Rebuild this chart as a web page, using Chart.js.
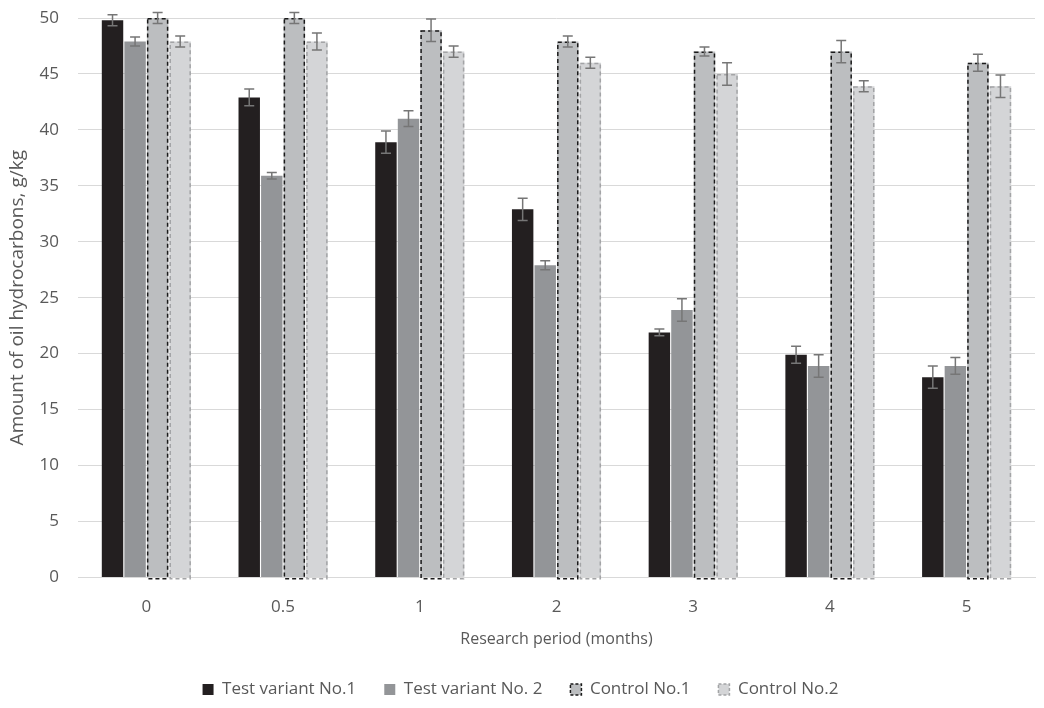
<!DOCTYPE html>
<html>
<head>
<meta charset="utf-8">
<script src="https://cdn.jsdelivr.net/npm/chart.js@4"></script>
<style>
  body { margin: 0; background: #fff; }
  #wrap { width: 1044px; height: 708px; }
</style>
</head>
<body>
<div id="wrap"><canvas id="oilChart"></canvas></div>
<script>
const periods = ['0', '0.5', '1', '2', '3', '4', '5'];

const variant1 = [49.8, 42.9, 38.9, 32.9, 21.9, 19.9, 17.9];
const variant1Err = [0.5, 0.75, 1, 1, 0.3, 0.75, 1];

const variant2 = [47.9, 35.9, 41, 27.9, 23.9, 18.9, 18.9];
const variant2Err = [0.4, 0.3, 0.7, 0.4, 1, 1, 0.75];

const control1 = [50, 50, 48.9, 47.9, 47, 47, 46];
const control1Err = [0.5, 0.5, 1, 0.5, 0.4, 1, 0.75];

const control2 = [47.9, 47.9, 47, 46, 45, 43.9, 43.9];
const control2Err = [0.5, 0.75, 0.5, 0.5, 1, 0.5, 1];

const yTicks = [0, 5, 10, 15, 20, 25, 30, 35, 40, 45, 50];

const textColor = '#595959';
const gridColor = '#d9d9d9';
const fontFamily = "'Open Sans', 'Liberation Sans', sans-serif";

// dashed outline for the control bars (bar elements have no borderDash)
const dashedOutline = {
    id: 'dashedOutline',
    afterDatasetsDraw(chart) {
        const ctx = chart.ctx;
        chart.data.datasets.forEach((ds, i) => {
            if (!ds.dashColor) return;
            const meta = chart.getDatasetMeta(i);
            ctx.save();
            ctx.strokeStyle = ds.dashColor;
            ctx.lineWidth = 1.5;
            ctx.setLineDash([4, 3]);
            meta.data.forEach(bar => {
                const p = bar.getProps(['x', 'y', 'base', 'width'], true);
                const left = p.x - p.width / 2;
                ctx.strokeRect(left + 0.75, p.y + 0.75, p.width - 1.5, p.base - p.y + 1);
            });
            ctx.restore();
        });
    }
};

const errorBars = {
    id: 'errorBars',
    afterDatasetsDraw(chart) {
        const ctx = chart.ctx;
        const yScale = chart.scales.y;
        ctx.save();
        ctx.strokeStyle = '#767676';
        ctx.lineWidth = 1.5;
        chart.data.datasets.forEach((ds, i) => {
            const meta = chart.getDatasetMeta(i);
            meta.data.forEach((bar, j) => {
                const v = ds.data[j];
                const e = ds.errors[j];
                const x = bar.x;
                const top = yScale.getPixelForValue(v + e);
                const bot = yScale.getPixelForValue(v - e);
                ctx.beginPath();
                ctx.moveTo(x, top); ctx.lineTo(x, bot);
                ctx.moveTo(x - 5, top); ctx.lineTo(x + 5, top);
                ctx.moveTo(x - 5, bot); ctx.lineTo(x + 5, bot);
                ctx.stroke();
            });
        });
        ctx.restore();
    }
};

new Chart(document.getElementById('oilChart'), {
    type: 'bar',
    data: {
        labels: periods,
        datasets: [
            { label: 'Test variant No.1', data: variant1, errors: variant1Err, backgroundColor: '#231f20' },
            { label: 'Test variant No. 2', data: variant2, errors: variant2Err, backgroundColor: '#939598' },
            { label: 'Control No.1', data: control1, errors: control1Err, backgroundColor: '#bcbec0', dashColor: '#1a1a1a' },
            { label: 'Control No.2', data: control2, errors: control2Err, backgroundColor: '#d4d5d7', dashColor: '#a3a4a6' }
        ]
    },
    options: {
        responsive: true,
        maintainAspectRatio: false,
        animation: false,
        layout: { padding: { top: 18, right: 9, left: 6, bottom: 0 } },
        datasets: {
            bar: { categoryPercentage: 0.66, barPercentage: 0.95 }
        },
        scales: {
            x: {
                grid: { display: false },
                border: { color: gridColor },
                ticks: { color: textColor, font: { family: fontFamily, size: 17 }, padding: 12 },
                title: {
                    display: true, text: 'Research period (months)', color: textColor,
                    font: { family: fontFamily, size: 16 }, padding: { top: 0, bottom: 4 }
                }
            },
            y: {
                min: 0, max: 50,
                afterBuildTicks: axis => { axis.ticks = yTicks.map(v => ({ value: v })); },
                afterFit: axis => {
                    axis.width = 72;
                    axis.paddingTop = 0;
                    axis.paddingBottom = 0;
                },
                grid: { color: gridColor, drawTicks: false },
                border: { display: false },
                ticks: { color: textColor, font: { family: fontFamily, size: 17 }, padding: 19 },
                title: {
                    display: true, text: 'Amount of oil hydrocarbons, g/kg', color: textColor,
                    font: { family: fontFamily, size: 19 }, padding: 0
                }
            }
        },
        plugins: {
            legend: {
                position: 'bottom',
                labels: {
                    color: textColor,
                    font: { family: fontFamily, size: 17 },
                    boxWidth: 11, boxHeight: 11, padding: 28,
                    generateLabels(chart) {
                        const items = Chart.defaults.plugins.legend.labels.generateLabels(chart);
                        items.forEach(it => {
                            const ds = chart.data.datasets[it.datasetIndex];
                            if (ds.dashColor) {
                                it.strokeStyle = ds.dashColor;
                                it.lineWidth = 1.5;
                                it.lineDash = [3, 2];
                            } else {
                                it.lineWidth = 0;
                            }
                        });
                        return items;
                    }
                }
            },
            tooltip: { enabled: false }
        }
    },
    plugins: [dashedOutline, errorBars]
});
</script>
</body>
</html>
